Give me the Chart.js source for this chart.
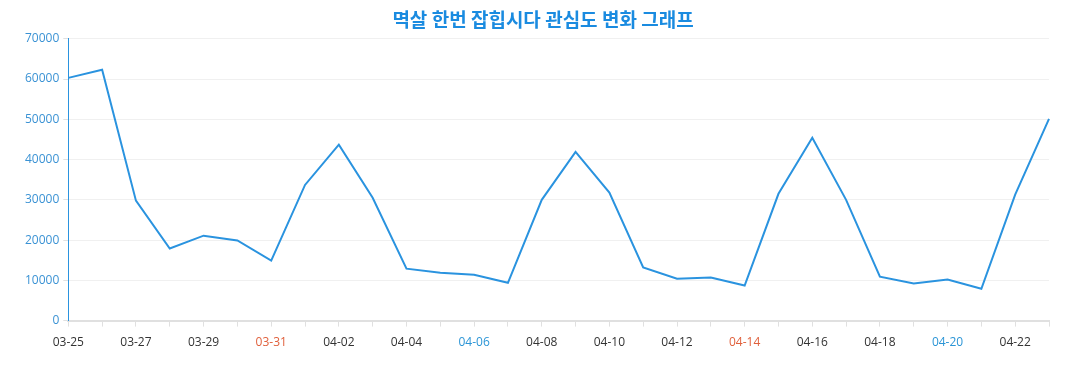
<!DOCTYPE html>
<html lang="ko">
<head>
    <meta charset="UTF-8">
    <title>멱살 한번 잡힙시다 관심도 변화 그래프</title>
    <script src="https://cdn.jsdelivr.net/npm/chart.js"></script>
    <style>
        body { margin: 0; background: #fff; }
        #wrap { width: 1077px; height: 390px; }
    </style>
</head>
<body>
<div id="wrap"><canvas id="trendChart"></canvas></div>
<script>
    // dates shown on the x axis
    const dates = [
        '03-25', '03-26', '03-27', '03-28', '03-29', '03-30', '03-31',
        '04-01', '04-02', '04-03', '04-04', '04-05', '04-06', '04-07',
        '04-08', '04-09', '04-10', '04-11', '04-12', '04-13', '04-14',
        '04-15', '04-16', '04-17', '04-18', '04-19', '04-20', '04-21',
        '04-22', '04-23'
    ];
    // daily interest values
    const interest = [
        60300, 62300, 29800, 17900, 21100, 19900, 14900,
        33700, 43700, 30500, 12900, 11900, 11400, 9400,
        30000, 41900, 31800, 13200, 10400, 10700, 8700,
        31500, 45400, 30000, 10900, 9200, 10200, 7900,
        31300, 50100
    ];
    // highlighted tick labels
    const redDates = ['03-31', '04-14'];
    const blueDates = ['04-06', '04-20'];

    // the title sits a bit right of the canvas centre in the original
    const titleShift = {
        id: 'titleShift',
        afterLayout(chart) {
            const t = chart.titleBlock;
            if (t) { t.left += 8; t.right += 8; }
        }
    };

    const ctx = document.getElementById('trendChart').getContext('2d');
    new Chart(ctx, {
        type: 'line',
        data: {
            labels: dates,
            datasets: [{
                label: '관심도',
                data: interest,
                borderColor: '#2a93df',
                borderWidth: 2,
                pointRadius: 0,
                tension: 0,
                fill: false
            }]
        },
        options: {
            responsive: true,
            maintainAspectRatio: false,
            animation: false,
            layout: { padding: { left: 21, right: 28, bottom: 31, top: 4 } },
            plugins: {
                legend: { display: false },
                tooltip: { enabled: false },
                title: {
                    display: true,
                    text: '멱살 한번 잡힙시다 관심도 변화 그래프',
                    color: '#1a8be0',
                    font: { family: '"Noto Sans CJK KR", sans-serif', size: 19, weight: 'bold' },
                    padding: { top: 4, bottom: 8 }
                }
            },
            scales: {
                x: {
                    grid: {
                        drawOnChartArea: false,
                        drawTicks: true,
                        tickLength: 6,
                        color: '#e0e0e0'
                    },
                    border: { color: '#e0e0e0', width: 2 },
                    ticks: {
                        autoSkip: false,
                        maxRotation: 0,
                        padding: 9,
                        font: { family: '"Open Sans", sans-serif', size: 12 },
                        callback: function(value, index) {
                            return index % 2 === 0 ? dates[index] : '';
                        },
                        color: function(context) {
                            const d = dates[context.index];
                            if (redDates.includes(d)) return '#e0603c';
                            if (blueDates.includes(d)) return '#2b95d6';
                            return '#333';
                        }
                    }
                },
                y: {
                    min: 0,
                    max: 70000,
                    ticks: {
                        stepSize: 10000,
                        color: '#3a92d4',
                        padding: 4,
                        font: { family: '"Open Sans", sans-serif', size: 12 },
                        callback: function(value) {
                            return String(value);
                        }
                    },
                    grid: {
                        color: '#f0f0f0',
                        tickLength: 5,
                        tickColor: '#e0e0e0'
                    },
                    border: { color: '#2a93df', width: 1 }
                }
            }
        },
        plugins: [titleShift]
    });
</script>
</body>
</html>
